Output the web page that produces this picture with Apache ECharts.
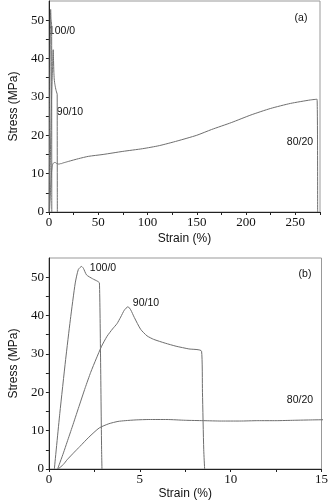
<!DOCTYPE html>
<html>
<head>
<meta charset="utf-8">
<script src="https://cdn.jsdelivr.net/npm/echarts@6/dist/echarts.min.js"></script>
<style>
  html, body { margin: 0; padding: 0; background: #fff; }
  #main { width: 331px; height: 501px; }
</style>
</head>
<body>
<div id="main"></div>
<script>
// strain (%) / stress (MPa)
const strain100 = [0.30, 0.60, 0.92, 1.18, 1.45, 1.62, 1.80, 1.90, 2.07, 2.40, 2.69, 2.78, 2.84, 2.90, 2.92];
const stress100 = [0, 14.5, 28.5, 38.9, 48.5, 52.0, 52.8, 52.3, 50.6, 49.6, 48.9, 48.5, 30, 5, 0];

const strain90 = [0.48, 0.80, 1.00, 1.30, 1.62, 2.00, 2.30, 2.60, 2.90, 3.20, 3.50, 3.75, 3.95, 4.15, 4.35, 4.50, 4.70, 5.05, 5.40, 5.76, 6.40, 7.00, 7.70, 8.40, 8.45, 8.52, 8.57];
const stress90 = [0, 4.2, 7.0, 11.2, 15.8, 21.2, 25.2, 28.7, 32.0, 34.6, 36.5, 37.9, 39.6, 41.4, 42.3, 41.5, 39.5, 36.4, 34.7, 33.8, 32.8, 32.0, 31.3, 30.7, 20, 5, 0];

const strain80 = [0.51, 0.80, 1.00, 1.40, 1.71, 2.20, 2.77, 3.30, 3.80, 4.20, 4.80, 5.50, 6.50, 7.50, 8.50, 9.50, 10.5, 11.5, 12.5, 13.5, 14.5, 16, 20, 30, 40, 55, 75, 95, 112, 130, 150, 165, 185, 205, 225, 245, 265, 272, 272.6];
const stress80 = [0, 1.2, 2.4, 4.4, 5.9, 8.3, 10.7, 11.8, 12.4, 12.6, 12.8, 12.9, 12.9, 12.7, 12.6, 12.5, 12.5, 12.6, 12.6, 12.7, 12.8, 12.9, 13.2, 13.9, 14.5, 15.0, 15.8, 16.5, 17.3, 18.5, 20.0, 21.5, 23.3, 25.3, 27.0, 28.3, 29.2, 29.4, 0];

const sampleNames = ['100/0', '90/10', '80/20'];

const pairs = (xs, ys) => xs.map((x, i) => [x, ys[i]]);
const curves = [pairs(strain100, stress100), pairs(strain90, stress90), pairs(strain80, stress80)];

const chart = echarts.init(document.getElementById('main'));

const tickFont = { fontFamily: 'Liberation Serif', fontSize: 13, color: '#111' };
const nameFont = { fontFamily: 'Liberation Sans', fontSize: 12, color: '#111' };
const lineColor = '#6e6e6e';

function xAxisFor(gridIndex, max, step, labelStep, gap) {
  return {
    type: 'value', gridIndex: gridIndex, min: 0, max: max, interval: step,
    name: 'Strain (%)', nameLocation: 'middle', nameGap: gap, nameTextStyle: nameFont,
    axisLine: { lineStyle: { color: '#222', width: 1 } },
    axisTick: { length: 3, lineStyle: { color: '#222' } },
    axisLabel: Object.assign({
      margin: 4,
      formatter: v => (Math.abs(v / labelStep - Math.round(v / labelStep)) < 1e-6 ? String(v) : '')
    }, tickFont),
    splitLine: { show: false }
  };
}

function yAxisFor(gridIndex) {
  return {
    type: 'value', gridIndex: gridIndex, min: 0, max: 55, interval: 5,
    name: 'Stress (MPa)', nameLocation: 'middle', nameGap: 27, nameTextStyle: nameFont,
    axisLine: { lineStyle: { color: '#222', width: 1 } },
    axisTick: { length: 3, lineStyle: { color: '#222' } },
    axisLabel: Object.assign({
      margin: 5, showMaxLabel: false,
      formatter: v => (v % 10 === 0 ? String(v) : '')
    }, tickFont),
    splitLine: { show: false }
  };
}

const series = [];
[0, 1].forEach(g => {
  curves.forEach((d, i) => {
    series.push({
      name: sampleNames[i], type: 'line', xAxisIndex: g, yAxisIndex: g,
      data: d, showSymbol: false, smooth: 0.2, clip: true,
      lineStyle: { color: lineColor, width: 1 }
    });
  });
});

function label(text, x, y) {
  return {
    type: 'text', x: x, y: y,
    style: { text: text, fill: '#111', font: '10.5px "Liberation Sans"', align: 'center', verticalAlign: 'middle' }
  };
}

chart.setOption({
  animation: false,
  grid: [
    { left: 43, right: 11, top: 1, bottom: 289, show: true, borderColor: '#999', borderWidth: 1 },
    { left: 41, right: 7, top: 258, bottom: 32, show: true, borderColor: '#999', borderWidth: 1 }
  ],
  xAxis: [xAxisFor(0, 275, 25, 50, 21), xAxisFor(1, 15, 2.5, 5, 19)],
  yAxis: [yAxisFor(0), yAxisFor(1)],
  series: series,
  graphic: [
    label('100/0', 62, 31), label('90/10', 70, 112), label('80/20', 300, 142), label('(a)', 301, 18),
    label('100/0', 103, 268), label('90/10', 146, 303), label('80/20', 300, 400), label('(b)', 305, 274)
  ]
});
</script>
</body>
</html>
